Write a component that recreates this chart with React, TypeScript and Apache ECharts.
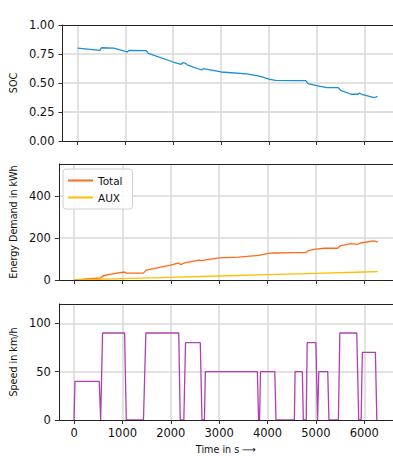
import React, { useEffect, useRef } from "react";
import * as echarts from "echarts";

const socData: [number, number][] = [
  [0, 0.8], [470, 0.782], [500, 0.804], [760, 0.8], [1000, 0.772], [1040, 0.768], [1080, 0.782],
  [1435, 0.779], [1480, 0.756], [2000, 0.681], [2165, 0.661], [2200, 0.675], [2250, 0.672],
  [2290, 0.657], [2590, 0.612], [2630, 0.623], [3000, 0.595], [3540, 0.578], [3820, 0.558],
  [4020, 0.532], [4140, 0.523], [4560, 0.52], [4770, 0.52], [4820, 0.494], [5000, 0.477],
  [5210, 0.46], [5450, 0.46], [5500, 0.437], [5720, 0.403], [5860, 0.403], [5890, 0.414],
  [5960, 0.399], [6200, 0.373], [6270, 0.385],
];

const totalData: [number, number][] = [
  [0, 0], [550, 9.5], [590, 19], [760, 28], [1040, 38], [1080, 33], [1435, 33], [1490, 47],
  [2000, 71], [2165, 81], [2205, 73], [2285, 81], [2590, 95], [2630, 92], [3000, 105],
  [3400, 109], [3820, 117], [4020, 127], [4150, 128.6], [4560, 130], [4800, 130], [4840, 140],
  [5000, 147], [5180, 151], [5450, 151], [5500, 162], [5720, 173], [5860, 170], [5925, 176],
  [6200, 186], [6280, 180],
];

const auxData: [number, number][] = [
  [0, 0], [1000, 6.5], [2000, 12.8], [3000, 19], [4000, 25.5], [5000, 32], [6000, 38], [6280, 39.5],
];

const speedData: [number, number][] = [
  [0, 0], [20, 40], [520, 40], [550, 0], [590, 90], [1045, 90], [1080, 0], [1435, 0], [1485, 90],
  [2165, 90], [2195, 0], [2270, 0], [2305, 80], [2610, 80], [2645, 0], [2695, 0], [2715, 50],
  [3790, 50], [3815, 0], [3835, 0], [3855, 50], [4150, 50], [4175, 0], [4555, 0], [4570, 50],
  [4720, 50], [4740, 0], [4800, 0], [4820, 80], [5000, 80], [5035, 0], [5060, 50], [5245, 50],
  [5270, 0], [5465, 0], [5495, 90], [5845, 90], [5885, 0], [5935, 0], [5960, 70], [6230, 70],
  [6260, 0],
];

const xTicks = [0, 1000, 2000, 3000, 4000, 5000, 6000];
const socTicks = [0, 0.25, 0.5, 0.75, 1.0];
const energyTicks = [0, 200, 400];
const speedTicks = [0, 50, 100];
const yMax = [1, 552, 120];

const X_MIN = -314;
const X_MAX = 6594;

const FONT = "DejaVu Sans";

export default function App() {
  const ref = useRef<HTMLDivElement>(null);
  useEffect(() => {
    if (!ref.current) return;
    const chart = echarts.init(ref.current, undefined, { renderer: "svg" });
    const gridTops = [25, 164, 304];
    const gridH = 116;
    const left = 57.6;
    const width = 338.1;

    const grid = gridTops.map((t) => ({
      left,
      top: t,
      width,
      height: gridH,
      show: false,
    }));

    const axisLine = { show: true, onZero: false, lineStyle: { color: "#222", width: 1 } };

    const xAxis = [0, 1, 2].map((i) => ({
      type: "value",
      gridIndex: i,
      min: X_MIN,
      max: X_MAX,
      z: 6,
      axisLine,
      axisTick: { show: true, length: 4, customValues: xTicks, lineStyle: { color: "#333" } },
      axisLabel: {
        show: i === 2,
        customValues: xTicks,
        fontFamily: FONT,
        fontSize: 11.5,
        color: "#111",
        margin: 7,
        formatter: (v: number) => String(Math.round(v)),
      },
      splitLine: { show: false },
      name: i === 2 ? "Time in s \u27F6" : "",
      nameLocation: "middle",
      nameGap: 24,
      nameTextStyle: { fontFamily: FONT, fontSize: 9.6, color: "#111" },
    }));

    const mkY = (i: number, ticks: number[], name: string, gap: number, fmt: (v: number) => string) => ({
      type: "value",
      gridIndex: i,
      min: 0,
      max: yMax[i],
      z: 6,
      axisLine,
      axisTick: { show: true, length: 4, customValues: ticks, lineStyle: { color: "#333" } },
      axisLabel: {
        customValues: ticks,
        fontFamily: FONT,
        fontSize: 11.5,
        color: "#111",
        margin: 8,
        formatter: (v: number) => fmt(v),
      },
      splitLine: { show: false },
      name,
      nameLocation: "middle",
      nameRotate: 90,
      nameGap: gap,
      nameTextStyle: { fontFamily: FONT, fontSize: 9.6, color: "#111" },
    });

    const yAxis = [
      mkY(0, socTicks, "SOC", 40, (v) => v.toFixed(2)),
      mkY(1, energyTicks, "Energy Demand in kWh", 36, (v) => String(Math.round(v))),
      mkY(2, speedTicks, "Speed in km/h", 36, (v) => String(Math.round(v))),
    ];

    const gridSeries = (idx: number, yTicks: number[]) => ({
      type: "line",
      name: "grid" + idx,
      data: [[0, 0]],
      xAxisIndex: idx,
      yAxisIndex: idx,
      symbol: "none",
      showSymbol: false,
      silent: true,
      z: 1,
      lineStyle: { width: 0 },
      markLine: {
        z: 1,
        silent: true,
        symbol: ["none", "none"],
        label: { show: false },
        lineStyle: { color: "#d9d9d9", width: 1.5, type: "solid", opacity: 1 },
        emphasis: { disabled: true },
        data: [
          ...xTicks.map((v) => ({ xAxis: v })),
          ...yTicks.filter((v) => v > 0 && v < yMax[idx]).map((v) => ({ yAxis: v })),
        ],
      },
    });

    const spineSeries = (idx: number) => ({
      type: "line",
      name: "spine" + idx,
      data: [[0, 0]],
      xAxisIndex: idx,
      yAxisIndex: idx,
      symbol: "none",
      showSymbol: false,
      silent: true,
      z: 6,
      lineStyle: { width: 0 },
      markLine: {
        z: 6,
        silent: true,
        symbol: ["none", "none"],
        label: { show: false },
        lineStyle: { color: "#222", width: 1, type: "solid", opacity: 1 },
        emphasis: { disabled: true },
        data: [{ yAxis: yMax[idx] }],
      },
    });

    const lineSeries = (name: string, data: [number, number][], idx: number, color: string) => ({
      type: "line",
      name,
      data,
      xAxisIndex: idx,
      yAxisIndex: idx,
      symbol: "none",
      showSymbol: false,
      clip: true,
      z: 3,
      lineStyle: { color, width: 1.3 },
      itemStyle: { color },
    });

    chart.setOption({
      animation: false,
      backgroundColor: "#fff",
      textStyle: { fontFamily: FONT },
      grid,
      xAxis,
      yAxis,
      legend: {
        data: ["Total", "AUX"],
        orient: "vertical",
        left: 63,
        top: 169,
        icon: "rect",
        itemWidth: 25,
        itemHeight: 2,
        itemGap: 6,
        itemTextGap: 9,
        padding: [6, 10, 6, 5],
        backgroundColor: "rgba(255,255,255,0.85)",
        borderColor: "#d0d0d0",
        borderWidth: 1,
        borderRadius: 3,
        z: 10,
        textStyle: { fontFamily: FONT, fontSize: 10.5, color: "#111" },
      },
      series: [
        gridSeries(0, socTicks),
        gridSeries(1, energyTicks),
        gridSeries(2, speedTicks),
        spineSeries(0),
        spineSeries(1),
        spineSeries(2),
        lineSeries("SOC", socData, 0, "#1a8ed6"),
        lineSeries("Total", totalData, 1, "#ff6a1a"),
        lineSeries("AUX", auxData, 1, "#ffbf00"),
        lineSeries("Speed", speedData, 2, "#b040b0"),
      ],
    });
    return () => chart.dispose();
  }, []);
  return (
    <div
      ref={ref}
      style={{ position: "absolute", left: 0, top: 0, width: 393, height: 456 }}
    />
  );
}
